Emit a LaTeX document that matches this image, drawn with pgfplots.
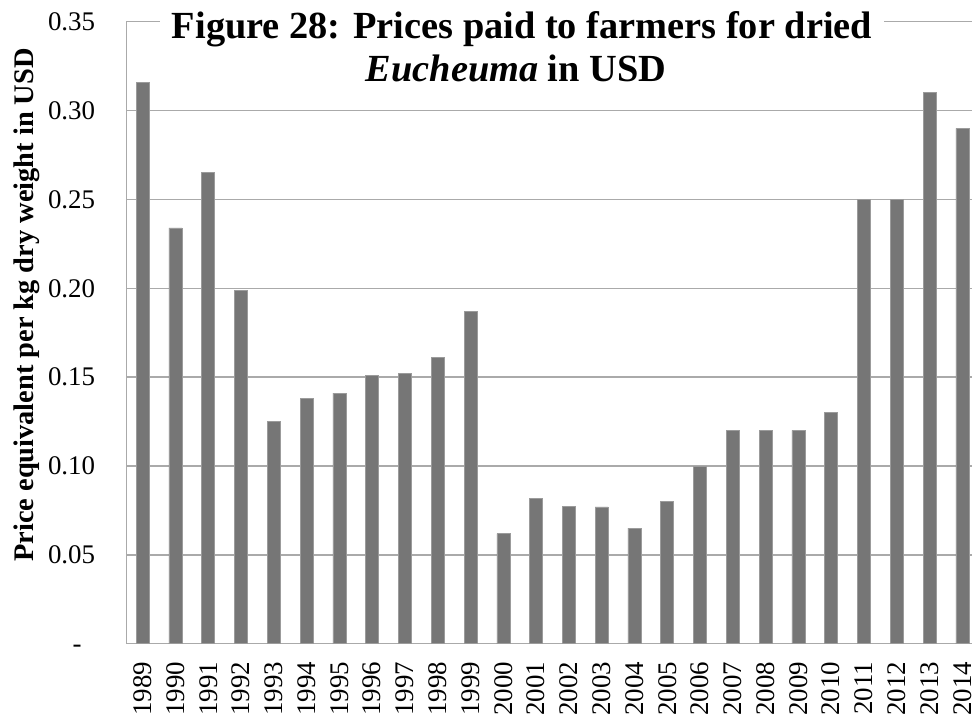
\documentclass[border=0pt]{standalone}
\usepackage{fontspec}
\setmainfont{Liberation Serif}
\usepackage{pgfplots}
\pgfplotsset{compat=1.18}

\definecolor{bargray}{RGB}{118,118,118}
\definecolor{baredge}{RGB}{155,155,155}
\definecolor{gridgray}{RGB}{170,170,170}

% Farm-gate price of dried Eucheuma, USD per kg (index 0 = 1989)
\pgfplotstableread{
idx price
0  0.316
1  0.234
2  0.265
3  0.199
4  0.125
5  0.138
6  0.141
7  0.151
8  0.152
9  0.161
10 0.187
11 0.062
12 0.082
13 0.0775
14 0.077
15 0.065
16 0.080
17 0.100
18 0.120
19 0.120
20 0.120
21 0.130
22 0.250
23 0.250
24 0.310
25 0.290
}\pricetable

\begin{document}
\begin{tikzpicture}
\useasboundingbox (0,0) rectangle (972bp,723bp);
\clip (0,0) rectangle (972bp,723bp);
\begin{axis}[
  at={(126.3bp,79.2bp)}, anchor=south west,
  scale only axis, width=852.4bp, height=622.2bp,
  xmin=-0.5, xmax=25.5, ymin=0, ymax=0.35,
  axis x line*=bottom, axis y line*=left,
  axis line style={draw=gridgray, line width=1.3bp},
  major tick length=0pt,
  ymajorgrids,
  grid style={draw=gridgray, line width=1.3bp},
  /pgf/number format/assume math mode=true,
  tick label style={font=\fontsize{27}{31}\selectfont},
  ytick={0,0.05,0.10,0.15,0.20,0.25,0.30,0.35},
  yticklabels={-\phantom{0},0.05,0.10,0.15,0.20,0.25,0.30,0.35},
  xtick={0,...,25},
  xticklabels={1989,1990,1991,1992,1993,1994,1995,1996,1997,1998,1999,2000,2001,2002,2003,2004,2005,2006,2007,2008,2009,2010,2011,2012,2013,2014},
  yticklabel style={inner sep=0pt, anchor=east},
  yticklabel shift=31bp,
  xticklabel style={inner sep=0pt, rotate=90, anchor=east},
  xticklabel shift=18bp,
  every axis y label/.style={at={(axis description cs:-0.1091,0.5445)}, rotate=90, anchor=base,
    font=\fontsize{28.5}{34}\selectfont\bfseries},
  ylabel={Price equivalent per kg dry weight in USD},
]
\addplot[ybar, bar width=13bp, bar shift=0pt, fill=bargray, draw=baredge, line width=0.6bp]
  table[x=idx, y=price] {\pricetable};
\end{axis}
% two-line chart title, the first line blanking the top grid line behind it
\node[anchor=base, fill=white, inner xsep=12bp, inner ysep=5bp,
  font=\fontsize{38.5}{44}\selectfont\bfseries] at (522bp,684bp)
  {Figure 28: Prices paid to farmers for dried};
\node[anchor=base, font=\fontsize{38.5}{44}\selectfont\bfseries] at (516bp,641bp)
  {\textit{Eucheuma} in USD};
\end{tikzpicture}
\end{document}
